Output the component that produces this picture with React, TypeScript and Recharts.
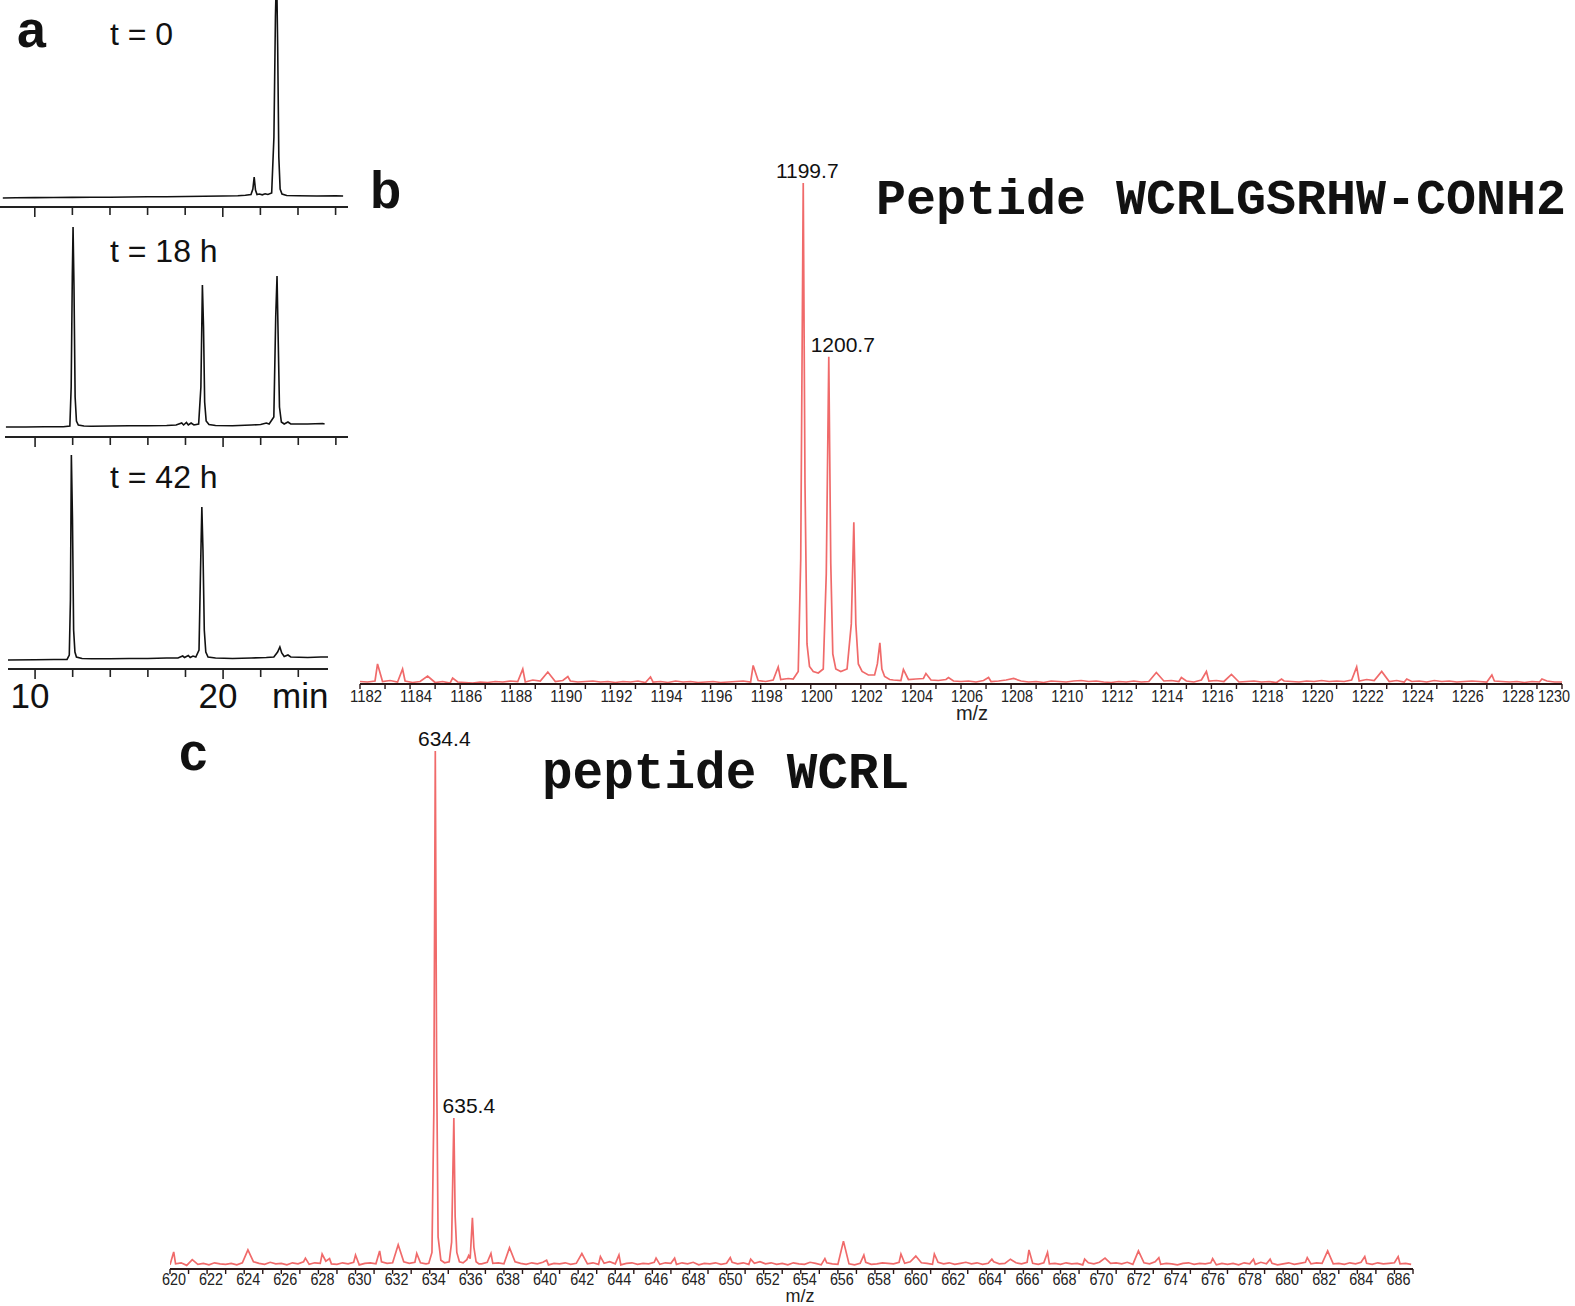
import React from 'react';
import { LineChart, Line, XAxis, YAxis, ReferenceDot } from 'recharts';

// ---------- Panel a: HPLC chromatograms (time in min, signal a.u.) ----------
const chromT0: [number, number][] = [
  [8.3, -1], [9, -0.8], [10, -0.6], [11, -0.5], [12, -0.4], [13, -0.3], [14, -0.2], [15, 0], [16, 0.2],
  [17, 0.3], [18, 0.5], [19, 0.8], [20, 1], [20.8, 1.3], [21.2, 1.8], [21.5, 2.5], [21.6, 8], [21.67, 20],
  [21.74, 7], [21.82, 2.5], [21.95, 3], [22.1, 2.2], [22.25, 3.2], [22.4, 2.5], [22.6, 4], [22.72, 60],
  [22.8, 180], [22.86, 230], [22.92, 150], [22.98, 40], [23.05, 8], [23.15, 3], [23.4, 1.5], [24, 1.2],
  [25, 1], [26, 1.2], [26.4, 1],
];
const chromT18: [number, number][] = [
  [8.45, 0], [9.5, 0], [10.5, 0.2], [11.5, 0.3], [11.85, 1], [11.92, 40], [11.98, 150], [12.02, 200],
  [12.07, 140], [12.13, 30], [12.2, 6], [12.3, 2], [12.6, 1], [13, 0.8], [14, 1], [15, 1.2], [16, 1.3],
  [17, 1.5], [17.5, 2], [17.8, 4], [17.9, 2], [18.05, 4.5], [18.15, 2], [18.3, 4], [18.45, 2], [18.7, 3],
  [18.82, 40], [18.9, 142], [18.96, 100], [19.02, 25], [19.1, 6], [19.25, 2.5], [19.6, 1.5], [20.5, 1.3],
  [21.5, 2], [22, 2.5], [22.3, 4], [22.45, 3], [22.7, 10], [22.8, 110], [22.87, 151], [22.93, 90],
  [23.0, 20], [23.1, 5], [23.25, 3], [23.45, 5], [23.6, 3], [24.5, 3], [25.3, 3.5], [25.4, 3],
];
const chromT42: [number, number][] = [
  [8.56, 0], [10, 0.3], [11, 0.5], [11.7, 0.6], [11.82, 5], [11.88, 60], [11.93, 205], [11.99, 140],
  [12.05, 30], [12.12, 8], [12.2, 3], [12.5, 1.5], [13, 1.2], [14, 1.2], [15, 1.5], [16, 1.5], [17, 2],
  [17.6, 2], [17.85, 4], [17.95, 2.5], [18.15, 4.5], [18.25, 2.5], [18.4, 4], [18.55, 3], [18.72, 10],
  [18.8, 90], [18.87, 153], [18.93, 110], [19.0, 30], [19.08, 8], [19.2, 3], [19.6, 2], [20.5, 1.5],
  [21.5, 2], [22.3, 2.5], [22.7, 3], [22.9, 8], [23.02, 13], [23.12, 7], [23.25, 3.5], [23.45, 5],
  [23.6, 3], [24.5, 2.5], [25.2, 3], [25.58, 3],
];
const chromTicks = [10, 12, 14, 16, 18, 20, 22, 24, 26];
const chromTicksBottom = [10, 12, 14, 16, 18, 20, 22, 24];
const chromLabelTicks = [10, 20];

// ---------- Panel b: MS of WCRLGSRHW-CONH2 ----------
const noiseBStart = 1182;
const noiseBStep = 0.3;
const noiseB = [
  0.5, 0.4, 0.6, 0.5, 0.7, 0.4, 0.6, 0.3, 0.5, 0.4,
  0.3, 0.5, 0.2, 0.4, 0.3, 0.2, 0.4, 0.3, 0.5, 0.4,
  0.6, 0.5, 0.4, 0.8, 0.6, 0.9, 0.5, 0.7, 0.6, 0.4,
  0.5, 0.6, 0.4, 0.5, 0.3, 0.5, 0.4, 0.6, 0.3, 0.4,
  0.5, 0.3, 0.6, 0.4, 0.5, 0.3, 0.4, 0.5, 0.3, 0.4,
  0.5, 0.6, 0.4, 0.7, 0.5, 0.8, 0.9, 1.1, 1.3, 1.5,
  1.6, 1.5, 1.8, 1.7, 1.9, 1.6, 1.4, 1.2, 1.1, 1.0,
  0.9, 0.8, 0.7, 0.9, 1.0, 1.1, 0.8, 0.7, 0.9, 0.6,
  0.5, 0.6, 0.4, 0.7, 0.5, 0.6, 0.8, 0.5, 0.6, 0.4,
  0.5, 0.3, 0.6, 0.5, 0.4, 0.6, 0.7, 0.5, 0.6, 0.4,
  0.3, 0.5, 0.4, 0.6, 0.4, 0.5, 0.3, 0.6, 0.7, 0.5,
  0.6, 0.4, 0.8, 0.6, 0.7, 0.5, 0.6, 0.4, 0.5, 0.6,
  0.4, 0.5, 0.3, 0.6, 0.5, 0.4, 0.6, 0.5, 0.7, 0.5,
  0.6, 0.5, 0.8, 0.6, 0.9, 0.7, 0.6, 0.5, 0.7, 0.4,
  0.5, 0.6, 0.4, 0.7, 0.5, 0.6, 0.4, 0.5, 0.6, 0.5,
  0.4, 0.6, 0.5, 0.4, 0.5, 0.3, 0.5, 0.4, 0.6, 0.4,
  0.4,
];
const peaksB: [number, number][] = [
  [1182.7, 4.0], [1183.7, 3.0], [1184.7, 1.6], [1185.7, 1.2], [1188.5, 3.0], [1189.5, 2.4], [1190.3, 1.5],
  [1193.6, 1.4], [1197.7, 3.7], [1198.7, 3.4], [1203.7, 2.9], [1204.6, 2.1], [1205.5, 1.3], [1207.1, 1.3],
  [1208.1, 1.1], [1213.8, 2.3], [1214.8, 1.3], [1215.8, 2.5], [1216.8, 1.9], [1218.8, 1.0], [1221.8, 3.4],
  [1222.8, 2.5], [1223.8, 1.0], [1227.2, 1.8], [1229.2, 1.0],
];
const clusterB: [number, number][] = [
  [1199.3, 1.0], [1199.5, 2.5], [1199.6, 25], [1199.7, 100], [1199.77, 40], [1199.85, 8], [1199.95, 3.5],
  [1200.1, 2.5], [1200.3, 2.2], [1200.5, 3], [1200.62, 22], [1200.72, 65.3], [1200.8, 24], [1200.88, 6],
  [1201.0, 3], [1201.2, 2.5], [1201.45, 3], [1201.62, 12], [1201.72, 32.3], [1201.8, 12], [1201.9, 4],
  [1202.05, 2.5], [1202.3, 1.8], [1202.55, 1.8], [1202.66, 4], [1202.76, 8.2], [1202.84, 3],
  [1202.95, 1.5], [1203.15, 0.9],
];
const labelsB: [number, number, string][] = [
  [1199.7, 100, '1199.7'],
  [1200.72, 65.3, '1200.7'],
];
const ticksB = Array.from({ length: 49 }, (_, i) => 1182 + i);

// ---------- Panel c: MS of WCRL ----------
const noiseCStart = 620;
const noiseCStep = 0.3;
const noiseC = [
  0.6, 0.8, 1.0, 0.5, 1.1, 0.7, 0.9, 0.6, 1.0, 0.8,
  0.7, 0.9, 0.6, 1.0, 0.8, 1.2, 0.9, 0.7, 1.1, 0.8,
  0.9, 0.6, 1.0, 0.8, 1.2, 0.7, 1.0, 0.9, 1.3, 0.8,
  0.7, 1.0, 0.8, 1.1, 0.6, 0.9, 1.0, 0.8, 1.2, 0.9,
  1.0, 0.8, 1.2, 0.9, 1.1, 1.0, 0.8, 0.9, 1.0, 0.7,
  0.9, 1.1, 0.8, 1.0, 1.2, 0.9, 0.8, 1.1, 0.9, 1.0,
  0.8, 1.0, 1.2, 0.9, 0.7, 1.0, 0.8, 1.1, 0.6, 0.9,
  0.8, 1.0, 0.7, 0.9, 1.1, 0.8, 1.0, 0.7, 0.9, 1.2,
  0.8, 0.6, 0.9, 1.0, 0.7, 0.9, 0.8, 1.1, 0.7, 1.0,
  0.9, 0.7, 1.0, 0.8, 1.1, 0.6, 0.9, 0.8, 1.0, 0.7,
  0.9, 1.1, 0.8, 1.0, 0.7, 0.9, 1.2, 0.8, 1.0, 0.7,
  0.9, 0.6, 1.0, 0.8, 0.7, 1.1, 0.9, 0.6, 1.0, 0.8,
  0.7, 1.0, 0.8, 0.6, 0.9, 1.1, 0.7, 0.8, 1.0, 0.9,
  0.8, 1.1, 0.9, 1.2, 0.8, 1.0, 0.9, 0.7, 1.1, 0.8,
  1.0, 0.7, 0.9, 1.1, 0.8, 1.0, 0.7, 0.9, 1.2, 0.8,
  0.9, 0.7, 1.0, 0.8, 1.1, 0.9, 0.7, 1.0, 0.8, 0.9,
  0.7, 1.0, 0.8, 0.9, 0.6, 1.0, 0.8, 1.1, 0.7, 0.9,
  1.0, 0.8, 1.1, 0.7, 0.9, 1.0, 0.8, 1.2, 0.7, 0.9,
  0.8, 0.6, 0.9, 1.0, 0.7, 0.9, 0.8, 1.0, 0.6, 0.9,
  0.7, 0.9, 0.6, 1.0, 0.8, 0.7, 1.1, 0.8, 0.9, 0.6,
  0.8, 1.0, 0.7, 0.9, 1.1, 0.8, 1.0, 0.9, 1.2, 0.8,
  0.9, 0.7, 1.0, 0.8, 1.1, 0.9, 0.7, 1.0, 0.8, 0.9,
  1.0, 0.8, 0.9, 0.7,
];
const peaksC: [number, number][] = [
  [620.2, 3.1], [621.2, 1.6], [624.2, 3.5], [627.3, 1.9], [628.2, 2.7], [628.6, 1.8], [630.0, 2.5],
  [631.3, 3.3], [632.3, 4.5], [633.3, 2.8], [637.3, 2.8], [638.3, 3.9], [640.3, 1.5], [642.2, 2.8],
  [643.2, 2.2], [644.2, 2.5], [646.2, 1.9], [647.2, 1.9], [650.2, 2.0], [651.3, 1.7], [655.3, 1.8],
  [656.3, 5.2], [657.4, 2.5], [659.4, 2.7], [660.2, 2.3], [661.2, 2.7], [664.3, 1.7], [665.3, 1.7],
  [666.3, 3.5], [667.3, 3.0], [669.3, 1.7], [670.4, 1.9], [672.2, 3.3], [673.3, 2.0], [676.2, 1.8],
  [678.4, 1.7], [679.3, 1.7], [681.3, 2.0], [682.4, 3.3], [684.4, 2.2], [686.2, 2.2],
];
const clusterC: [number, number][] = [
  [633.95, 0.9], [634.12, 3], [634.22, 30], [634.3, 100], [634.37, 40], [634.45, 6], [634.6, 1.5],
  [634.8, 1.0], [635.05, 1.2], [635.18, 5], [635.3, 29], [635.37, 10], [635.46, 3], [635.6, 1.2],
  [635.8, 1.0], [636.0, 1.6], [636.1, 2.4], [636.18, 1.8], [636.3, 9.7], [636.38, 4], [636.5, 1.2],
  [636.65, 0.8],
];
const labelsC: [number, number, string][] = [
  [634.3, 100, '634.4'],
  [635.3, 29, '635.4'],
];
const ticksC = Array.from({ length: 68 }, (_, i) => 620 + i);

// ---------- helpers ----------
function buildSpectrum(start: number, step: number, noise: number[], peaks: [number, number][], cluster: [number, number][]) {
  const c0 = cluster[0][0];
  const c1 = cluster[cluster.length - 1][0];
  const pts: { x: number; y: number }[] = [];
  noise.forEach((v, i) => {
    const x = Math.round((start + i * step) * 100) / 100;
    if (x >= c0 - 0.05 && x <= c1 + 0.05) return;
    if (peaks.some(([p]) => Math.abs(p - x) < 0.07)) return;
    pts.push({ x, y: v });
  });
  peaks.forEach(([x, y]) => pts.push({ x, y }));
  cluster.forEach(([x, y]) => pts.push({ x, y }));
  pts.sort((a, b) => a.x - b.x);
  return pts;
}

const specB = buildSpectrum(noiseBStart, noiseBStep, noiseB, peaksB, clusterB);
const specC = buildSpectrum(noiseCStart, noiseCStep, noiseC, peaksC, clusterC);

const SANS = '"Liberation Sans", Arial, Helvetica, sans-serif';
const MONO = '"Liberation Mono", "Courier New", monospace';
const RED = '#f06a6a';
const AXIS_DARK = '#2b1717';

type ChromProps = {
  data: [number, number][];
  left: number;
  top: number;
  width: number;
  plotH: number;
  axisH: number;
  xDomain: [number, number];
  yDomain: [number, number];
  ticks: number[];
  showLabels: boolean;
};

function Chrom({ data, left, top, width, plotH, axisH, xDomain, yDomain, ticks, showLabels }: ChromProps) {
  const rows = data.map(([t, s]) => ({ t, s }));
  const tick = (p: any) => {
    const v = p.payload.value;
    const major = v === 10 || v === 20;
    return (
      <g>
        <line x1={p.x} x2={p.x} y1={p.y} y2={p.y + (major ? 10 : 8)} stroke="#222" strokeWidth={1.6} />
        {showLabels && chromLabelTicks.includes(v) ? (
          <text x={p.x - 5} y={p.y + 39} textAnchor="middle" fontSize={35} fontFamily={SANS} fill="#111">
            {v}
          </text>
        ) : null}
      </g>
    );
  };
  return (
    <div style={{ position: 'absolute', left, top, width, height: plotH + axisH }}>
      <LineChart width={width} height={plotH + axisH} data={rows} margin={{ top: 0, right: 0, bottom: 0, left: 0 }}>
        <XAxis
          dataKey="t"
          type="number"
          domain={xDomain}
          allowDataOverflow
          ticks={ticks}
          interval={0}
          tickLine={false}
          tickSize={0}
          tickMargin={0}
          height={axisH}
          axisLine={{ stroke: '#222', strokeWidth: 2.2 }}
          tick={tick}
        />
        <YAxis hide width={0} type="number" domain={yDomain} allowDataOverflow />
        <Line dataKey="s" type="linear" stroke="#111" strokeWidth={1.6} dot={false} activeDot={false} isAnimationActive={false} />
      </LineChart>
    </div>
  );
}

type SpecProps = {
  data: { x: number; y: number }[];
  left: number;
  top: number;
  width: number;
  height: number;
  margin: { top: number; right: number; bottom: number; left: number };
  axisH: number;
  xDomain: [number, number];
  yDomain: [number, number];
  ticks: number[];
  labelDx: number;
  labelDy: number;
  labelLen: number;
  labels: [number, number, string][];
  labelOffsets: number[];
};

function Spectrum({ data, left, top, width, height, margin, axisH, xDomain, yDomain, ticks, labelDx, labelDy, labelLen, labels, labelOffsets }: SpecProps) {
  const lastTick = ticks[ticks.length - 1];
  const tick = (p: any) => {
    const v = p.payload.value;
    const s = String(v);
    const dx = v === lastTick ? -8 : labelDx;
    return (
      <g>
        <line x1={p.x} x2={p.x} y1={p.y} y2={p.y + 5} stroke={AXIS_DARK} strokeWidth={1.4} />
        {v % 2 === 0 ? (
          <text
            x={p.x + dx}
            y={p.y + labelDy}
            textAnchor="middle"
            fontSize={16}
            fontFamily={SANS}
            fill="#222"
            textLength={labelLen}
            lengthAdjust="spacingAndGlyphs"
          >
            {s}
          </text>
        ) : null}
      </g>
    );
  };
  return (
    <div style={{ position: 'absolute', left, top, width, height }}>
      <LineChart width={width} height={height} data={data} margin={margin}>
        <XAxis
          dataKey="x"
          type="number"
          domain={xDomain}
          allowDataOverflow
          ticks={ticks}
          interval={0}
          tickLine={false}
          tickSize={0}
          tickMargin={0}
          height={axisH}
          axisLine={{ stroke: AXIS_DARK, strokeWidth: 2 }}
          tick={tick}
        />
        <YAxis hide width={0} type="number" domain={yDomain} allowDataOverflow />
        <Line dataKey="y" type="linear" stroke={RED} strokeWidth={1.7} dot={false} activeDot={false} isAnimationActive={false} />
        {labels.map(([x, y, text], i) => (
          <ReferenceDot
            key={text}
            x={x}
            y={y}
            r={0}
            shape={(p: any) => (
              <text x={p.cx + labelOffsets[i]} y={p.cy - 5} textAnchor="middle" fontSize={21} fontFamily={SANS} fill="#111">
                {text}
              </text>
            )}
          />
        ))}
      </LineChart>
    </div>
  );
}

export default function App() {
  return (
    <div style={{ position: 'absolute', left: 0, top: 0, width: 1575, height: 1306, background: '#fff', overflow: 'hidden', fontFamily: SANS }}>
      <Chrom data={chromT0} left={0} top={0} width={348} plotH={207} axisH={12} xDomain={[8.15, 26.66]} yDomain={[-10, 197]} ticks={chromTicks} showLabels={false} />
      <Chrom data={chromT18} left={5} top={217} width={343} plotH={220} axisH={12} xDomain={[8.4, 26.645]} yDomain={[-10, 210]} ticks={chromTicks} showLabels={false} />
      <Chrom data={chromT42} left={8} top={450} width={320} plotH={219} axisH={50} xDomain={[8.56, 25.58]} yDomain={[-9, 210]} ticks={chromTicksBottom} showLabels={true} />

      <Spectrum
        data={specB}
        left={300}
        top={150}
        width={1300}
        height={600}
        margin={{ top: 33, right: 38, bottom: 26, left: 60 }}
        axisH={40}
        xDomain={[1182, 1230]}
        yDomain={[0, 100]}
        ticks={ticksB}
        labelDx={6}
        labelDy={18}
        labelLen={32}
        labels={labelsB}
        labelOffsets={[4, 14]}
      />
      <Spectrum
        data={specC}
        left={100}
        top={700}
        width={1360}
        height={600}
        margin={{ top: 51, right: 47, bottom: 6, left: 70 }}
        axisH={25}
        xDomain={[620, 687]}
        yDomain={[-0.2, 100]}
        ticks={ticksC}
        labelDx={4}
        labelDy={16}
        labelLen={24}
        labels={labelsC}
        labelOffsets={[9, 15]}
      />

      <svg width={1575} height={1306} style={{ position: 'absolute', left: 0, top: 0, pointerEvents: 'none' }}>
        <text x={17} y={47} fontSize={52} fontWeight="bold" fontFamily={SANS} fill="#111">a</text>
        <text x={110} y={45} fontSize={32} fontFamily={SANS} fill="#111">t = 0</text>
        <text x={110} y={262} fontSize={32} fontFamily={SANS} fill="#111">t = 18 h</text>
        <text x={110} y={488} fontSize={32} fontFamily={SANS} fill="#111">t = 42 h</text>
        <text x={272} y={708} fontSize={35} fontFamily={SANS} fill="#111">min</text>
        <text x={370} y={208} fontSize={51} fontWeight="bold" fontFamily={SANS} fill="#111">b</text>
        <text x={179} y={770} fontSize={51} fontWeight="bold" fontFamily={SANS} fill="#111">c</text>
        <text x={876} y={214} fontSize={50} fontWeight="bold" fontFamily={MONO} fill="#111">Peptide WCRLGSRHW-CONH2</text>
        <text x={542} y={788} fontSize={51} fontWeight="bold" fontFamily={MONO} fill="#111">peptide WCRL</text>
        <text x={972} y={720} fontSize={20} textAnchor="middle" fontFamily={SANS} fill="#222">m/z</text>
        <text x={800} y={1302} fontSize={18} textAnchor="middle" fontFamily={SANS} fill="#222">m/z</text>
      </svg>
    </div>
  );
}
